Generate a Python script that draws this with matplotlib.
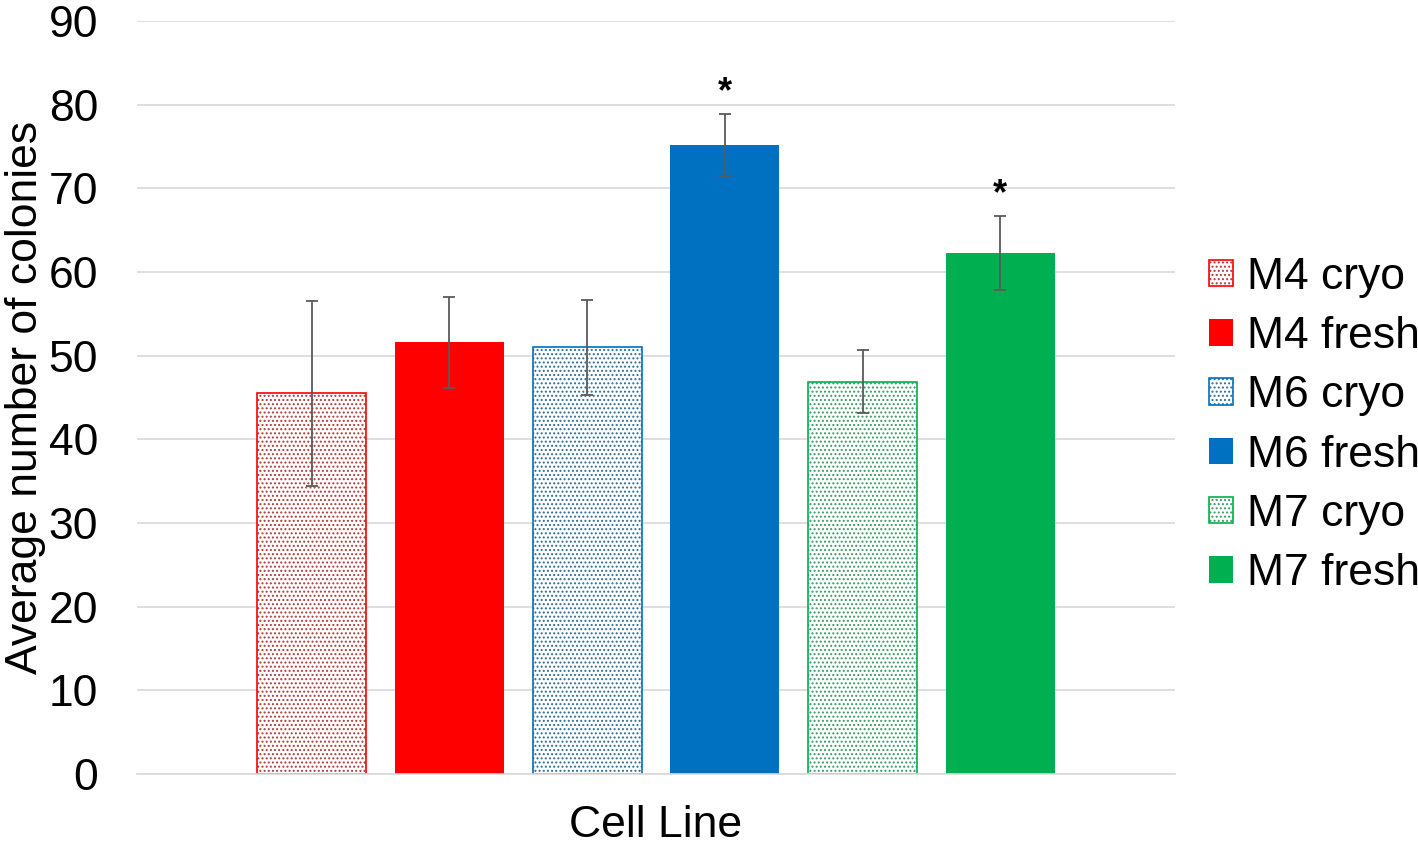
import matplotlib.pyplot as plt
import matplotlib as mpl
from matplotlib.legend_handler import HandlerTuple

plt.rcParams['font.family'] = ['Liberation Sans', 'DejaVu Sans']
mpl.rcParams['hatch.linewidth'] = 0.95

# values
labels = ['M4 cryo', 'M4 fresh', 'M6 cryo', 'M6 fresh', 'M7 cryo', 'M7 fresh']
means = [45.5, 51.6, 51.0, 75.2, 46.9, 62.3]
errs = [11.1, 5.4, 5.7, 3.7, 3.8, 4.4]
colors = ['#FF0000', '#FF0000', '#0070C0', '#0070C0', '#00B050', '#00B050']
dot_colors = ['#b03a3a', '#FF0000', '#2f6e96', '#0070C0', '#3a9a63', '#00B050']
is_cryo = [True, False, True, False, True, False]
significant = [False, False, False, True, False, True]

fs = 32

fig = plt.figure(figsize=(14.18, 8.46), dpi=100)
ax = fig.add_axes([0.0966, 0.0851, 0.732, 0.8899])

handles = []
for i, lab in enumerate(labels):
    if is_cryo[i]:
        dots = ax.bar(i, means[i], width=0.79, color='white', edgecolor=dot_colors[i],
                      hatch='....', linewidth=0, zorder=2)
        # outline in the series colour
        edge = ax.bar(i, means[i], width=0.79, fill=False, edgecolor=colors[i],
                      linewidth=1.2, zorder=2)
        handles.append((dots[0], edge[0]))
    else:
        b = ax.bar(i, means[i], width=0.79, color=colors[i], edgecolor=colors[i],
                   linewidth=0, zorder=2)
        handles.append(b[0])
    ax.errorbar(i, means[i], yerr=errs[i], fmt='none', ecolor='#5a5a5a',
                elinewidth=1.3, capsize=4, capthick=1.3, zorder=3)
    if significant[i]:
        ax.annotate('*', (i, means[i] + errs[i]), xytext=(0, 3),
                    textcoords='offset points', ha='center', va='bottom',
                    fontsize=26, fontweight='bold')

ax.set_xlim(-1.267, 6.267)
ax.set_ylim(0, 90)
ax.set_yticks(range(0, 91, 10))
ax.set_xticks([])
ax.yaxis.grid(True, color='#d9d9d9', linewidth=1.2, zorder=0)
ax.set_axisbelow(True)
for s in ax.spines.values():
    s.set_visible(False)
ax.spines['bottom'].set_visible(True)
ax.spines['bottom'].set_color('#d9d9d9')
ax.spines['bottom'].set_linewidth(1.2)
ax.tick_params(axis='y', length=0, pad=28, labelsize=fs)

ax.set_ylabel('Average number of colonies', fontsize=fs, labelpad=2)
ax.set_xlabel('Cell Line', fontsize=fs, labelpad=22)

ax.legend(handles, labels, handler_map={tuple: HandlerTuple(ndivide=1, pad=0)},
          loc='center left', bbox_to_anchor=(1.033, 0.463), frameon=False,
          fontsize=fs, handlelength=0.54, handleheight=0.54,
          handletextpad=0.3, labelspacing=0.41, borderpad=0, borderaxespad=0)

fig.savefig('out.png', dpi=100)
